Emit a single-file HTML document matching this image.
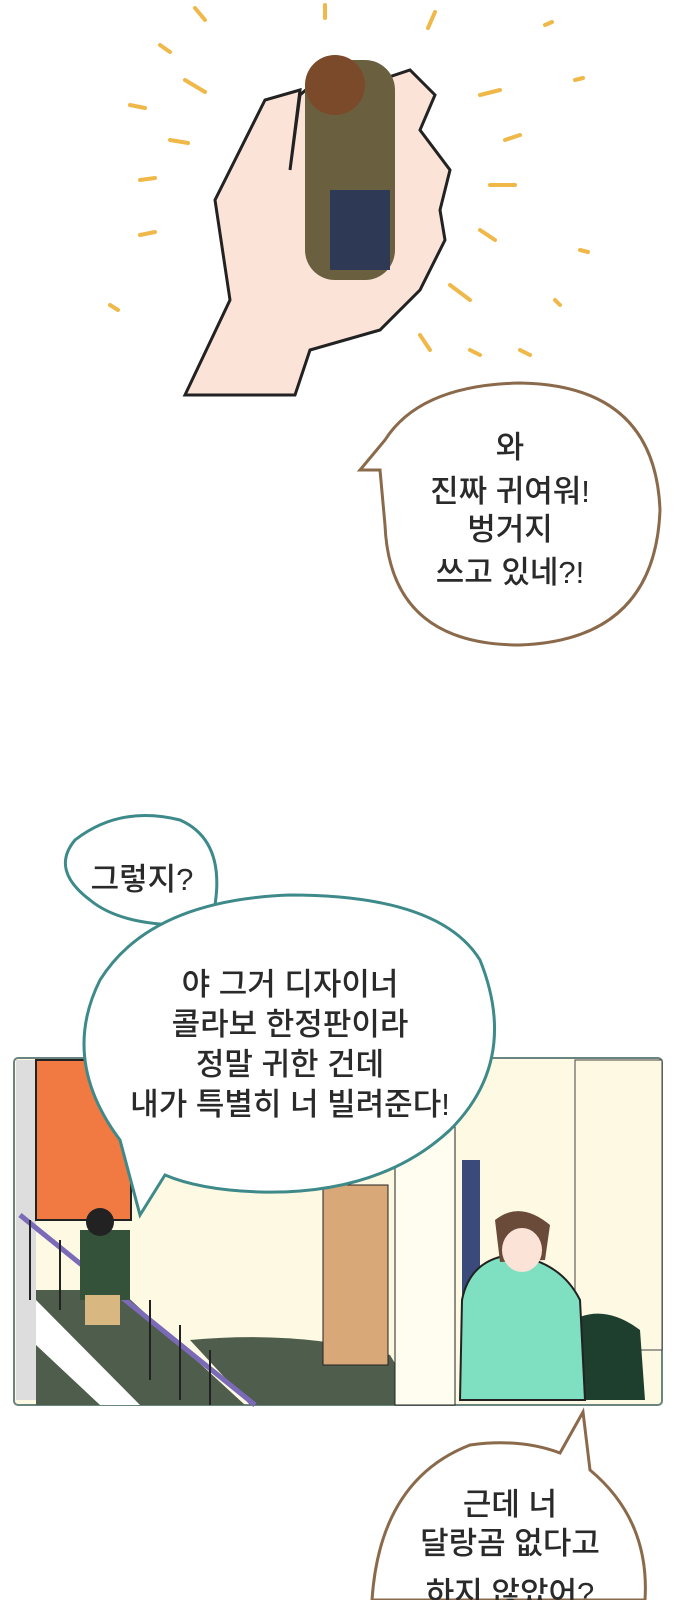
<!DOCTYPE html><html><head><meta charset="utf-8"><style>body{margin:0;background:#fff}svg{display:block}text{font-family:"Liberation Sans","Noto Sans CJK KR",sans-serif;font-size:31px;font-weight:500;fill:#2a2a2a;text-anchor:middle}</style></head><body>
<svg width="690" height="1600" viewBox="0 0 690 1600">
<g stroke="#f0b848" stroke-width="4" stroke-linecap="round">
<line x1="195" y1="8" x2="205" y2="20"/><line x1="325" y1="5" x2="325" y2="18"/><line x1="435" y1="12" x2="428" y2="28"/><line x1="160" y1="45" x2="170" y2="52"/><line x1="185" y1="80" x2="205" y2="92"/><line x1="130" y1="105" x2="145" y2="108"/><line x1="170" y1="140" x2="188" y2="143"/><line x1="140" y1="180" x2="155" y2="178"/><line x1="480" y1="95" x2="500" y2="90"/><line x1="490" y1="185" x2="515" y2="185"/><line x1="505" y1="140" x2="520" y2="135"/><line x1="480" y1="230" x2="495" y2="240"/><line x1="140" y1="235" x2="155" y2="232"/><line x1="450" y1="285" x2="470" y2="300"/><line x1="420" y1="335" x2="430" y2="350"/><line x1="470" y1="350" x2="480" y2="355"/><line x1="520" y1="350" x2="530" y2="355"/><line x1="575" y1="80" x2="583" y2="78"/><line x1="545" y1="25" x2="552" y2="22"/><line x1="110" y1="305" x2="118" y2="310"/><line x1="580" y1="250" x2="588" y2="252"/><line x1="555" y1="300" x2="560" y2="305"/>
</g>
<path d="M185 395 L230 300 L215 200 L265 100 L300 90 L290 170 L300 95 L340 60 L380 80 L410 70 L435 95 L420 130 L450 170 L440 210 L445 240 L420 290 L380 330 L310 350 L295 395 Z" fill="#fbe3d8" stroke="#222" stroke-width="3"/>
<rect x="305" y="60" width="90" height="220" rx="30" fill="#6a6040"/>
<rect x="330" y="190" width="60" height="80" fill="#2e3a55"/>
<circle cx="335" cy="85" r="30" fill="#7a4a2a"/>
<path d="M380 470 L360 470 L385 440 Q420 385 520 383 Q655 385 660 510 Q655 640 520 645 Q390 645 385 525 Z" fill="#fff" stroke="#8a6a4a" stroke-width="3"/>
<text x="510" y="458">와</text><text x="510" y="502">진짜 귀여워!</text><text x="510" y="540">벙거지</text><text x="510" y="583">쓰고 있네?!</text>
<rect x="14" y="1058" width="648" height="347" rx="4" fill="#fdf9e2" stroke="#6a8480" stroke-width="2"/>
<rect x="16" y="1060" width="20" height="340" fill="#ddd"/>
<rect x="36" y="1060" width="95" height="160" fill="#f07a42" stroke="#222" stroke-width="2"/>
<path d="M36 1290 L120 1290 L245 1405 L36 1405 Z" fill="#4f5d4c"/>
<path d="M190 1340 Q300 1330 390 1355 L420 1405 L250 1405 Z" fill="#4f5d4c"/>
<line x1="20" y1="1215" x2="255" y2="1405" stroke="#7a6ab8" stroke-width="5"/>
<g stroke="#222" stroke-width="2">
<line x1="30" y1="1220" x2="30" y2="1300"/><line x1="60" y1="1240" x2="60" y2="1310"/><line x1="150" y1="1300" x2="150" y2="1380"/><line x1="180" y1="1325" x2="180" y2="1400"/><line x1="210" y1="1350" x2="210" y2="1405"/></g>
<path d="M36 1300 L140 1405 L100 1405 L36 1345 Z" fill="#fff"/>
<rect x="80" y="1230" width="50" height="70" fill="#34523a"/><rect x="85" y="1295" width="35" height="30" fill="#d8b880"/><circle cx="100" cy="1222" r="14" fill="#222"/>
<rect x="323" y="1185" width="65" height="180" fill="#d8a878" stroke="#222" stroke-width="1"/>
<rect x="395" y="1120" width="60" height="285" fill="#fffdf0" stroke="#222"/>
<rect x="462" y="1160" width="18" height="140" fill="#3a4a7a"/>
<rect x="575" y="1060" width="87" height="290" fill="#fdf9e2" stroke="#444"/>
<path d="M565 1325 Q600 1300 640 1330 L645 1400 L570 1400 Z" fill="#1e3e2e"/>
<path d="M462 1300 Q470 1260 510 1255 Q560 1260 580 1300 L585 1400 L460 1400 Z" fill="#7ee0c0" stroke="#222" stroke-width="2"/>
<path d="M495 1220 Q520 1200 550 1225 L545 1260 L500 1262 Z" fill="#6a4a38"/><ellipse cx="522" cy="1250" rx="20" ry="22" fill="#fbe3d8"/>
<path d="M185 925 Q120 925 90 900 Q50 870 75 840 Q120 805 180 820 Q225 840 215 905 Z" fill="#fff" stroke="#3e8a8a" stroke-width="3"/>
<text x="142" y="890">그렇지?</text>
<path d="M165 1175 L140 1215 L120 1140 Q60 1060 100 980 Q150 900 290 895 Q440 895 480 960 Q520 1060 450 1130 Q380 1195 260 1192 Q200 1190 165 1175 Z" fill="#fff" stroke="#3e8a8a" stroke-width="3"/>
<text x="290" y="995">야 그거 디자이너</text><text x="290" y="1035">콜라보 한정판이라</text><text x="290" y="1075">정말 귀한 건데</text><text x="290" y="1115">내가 특별히 너 빌려준다!</text>
<path d="M560 1453 L583 1412 L590 1470 Q650 1520 645 1600 L372 1600 Q380 1480 470 1445 Q520 1438 560 1453 Z" fill="#fff" stroke="#8a6a4a" stroke-width="3"/>
<text x="510" y="1515">근데 너</text><text x="510" y="1554">달랑곰 없다고</text><text x="510" y="1604">하지 않았어?</text>
</svg></body></html>
